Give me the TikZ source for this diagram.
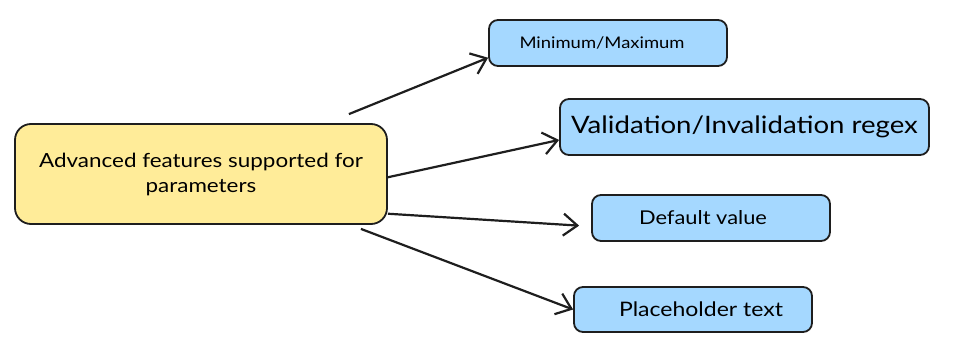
\documentclass[tikz,border=0pt]{standalone}
\usepackage{fontspec}
\setmainfont{Lato}[FakeStretch=1.15]
\usepackage{xcolor}
\usepackage{tikz}
\usetikzlibrary{arrows.meta, calc}

\definecolor{topicyellow}{HTML}{FFEC99}
\definecolor{featureblue}{HTML}{A5D8FF}
\definecolor{inkline}{HTML}{1E1E1E}

\begin{document}
\begin{tikzpicture}[
        x=1pt, y=-1pt,
        >={Straight Barb[length=14pt, width=22pt]}, % open arrowhead
        topic/.style={rectangle, draw=inkline, line width=1.8pt, fill=topicyellow, rounded corners=16pt, minimum width=372pt, minimum height=100pt, align=center, font=\fontsize{19.5}{25}\selectfont},
        feature/.style={rectangle, draw=inkline, line width=1.8pt, fill=featureblue, rounded corners=9pt, minimum width=238pt, minimum height=46pt, align=center},
        link/.style={->, draw=inkline, line width=2.2pt}
    ]

    \useasboundingbox (0,0) rectangle (966,361);

    % ==========================================
    % 1. CENTRAL TOPIC
    % ==========================================
    \node[topic] (Topic) at (201, 174) {Advanced features supported for\\parameters};

    % ==========================================
    % 2. FEATURES
    % ==========================================
    \node[feature, font=\fontsize{16}{20}\selectfont] (minmax) at (608, 43) {\hspace*{-12pt}Minimum/Maximum};
    \node[feature, minimum width=369pt, minimum height=56pt, font=\fontsize{24}{29}\selectfont] (regex) at (744.5, 127) {Validation/Invalidation regex};
    \node[feature, font=\fontsize{19}{23}\selectfont] (defval) at (711, 218) {\hspace*{-16pt}Default value};
    \node[feature, minimum height=45pt, font=\fontsize{20}{24}\selectfont] (placeholder) at (693, 309.5) {\hspace*{16pt}Placeholder text};

    % ==========================================
    % 3. CONNECTIONS
    % ==========================================
    \draw[link] ($(Topic.north east)+(-39,-9)$) -- (minmax.187);
    \draw[link] (Topic.-1) -- (regex.184);
    \draw[link, shorten >=12pt] (Topic.-12) -- (defval.184);
    \draw[link] ($(Topic.south east)+(-27,4)$) -- (placeholder.west);

\end{tikzpicture}
\end{document}
